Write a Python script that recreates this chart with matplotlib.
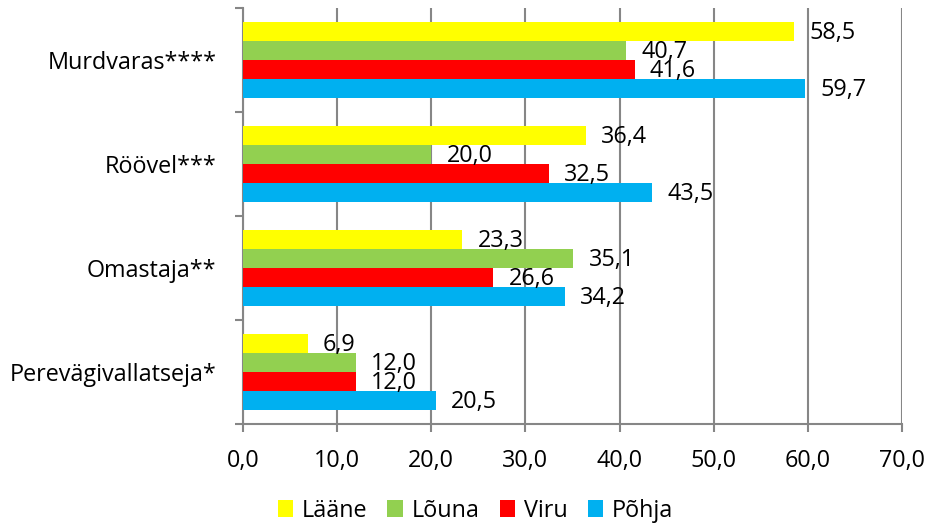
import numpy as np
import matplotlib
matplotlib.use("Agg")
import matplotlib.pyplot as plt

plt.rcParams['font.family'] = ['Open Sans', 'DejaVu Sans']

# data
categories = ["Murdvaras****", "Röövel***", "Omastaja**", "Perevägivallatseja*"]
series_names = ["Lääne", "Lõuna", "Viru", "Põhja"]
laane = [58.5, 36.4, 23.3, 6.9]
louna = [40.7, 20.0, 35.1, 12.0]
viru = [41.6, 32.5, 26.6, 12.0]
pohja = [59.7, 43.5, 34.2, 20.5]
xticks = [0, 10, 20, 30, 40, 50, 60, 70]

colors = ["#FFFF00", "#92D050", "#FF0000", "#00B0F0"]
grid_col = "#868686"
fs = 16.8

fig = plt.figure(figsize=(9.27, 5.29), dpi=100)
ax = fig.add_axes([0.262, 0.198, 0.711, 0.787])

n_cat = len(categories)
bar_h = 0.183
pos = np.arange(n_cat)[::-1]  # Murdvaras at the top

for i, (name, vals) in enumerate(zip(series_names, [laane, louna, viru, pohja])):
    y = pos + (1.5 - i) * bar_h
    ax.barh(y, vals, height=bar_h, color=colors[i], label=name, zorder=3)
    for yy, v in zip(y, vals):
        ax.annotate(f"{v:.1f}".replace(".", ","), (v, yy), xytext=(11, -1),
                    textcoords="offset points", va="center", ha="left",
                    fontsize=fs, zorder=4)

ax.set_xlim(0, 70)
ax.set_ylim(-0.5, n_cat - 0.5)
ax.set_xticks(xticks)
ax.set_xticklabels([f"{t:.1f}".replace(".", ",") for t in xticks], fontsize=fs)
ax.set_yticks(pos)
ax.set_yticklabels(categories, fontsize=fs)
ax.set_yticks(np.arange(n_cat + 1) - 0.5, minor=True)
ax.tick_params(axis="y", which="major", length=0, pad=19)
ax.tick_params(axis="y", which="minor", length=6, color=grid_col, width=1.5)
ax.tick_params(axis="x", length=6, color=grid_col, width=1.5, pad=12)

ax.grid(axis="x", color=grid_col, linewidth=1.5, zorder=0)
for s in ["top", "right"]:
    ax.spines[s].set_visible(False)
for s in ["left", "bottom"]:
    ax.spines[s].set_color(grid_col)
    ax.spines[s].set_linewidth(1.5)

fig.legend(loc="lower center", bbox_to_anchor=(0.513, -0.028), ncol=4,
           frameon=False, fontsize=fs, handlelength=0.65, handleheight=0.75,
           handletextpad=0.4, columnspacing=0.85)

fig.savefig("out.png", dpi=100)
